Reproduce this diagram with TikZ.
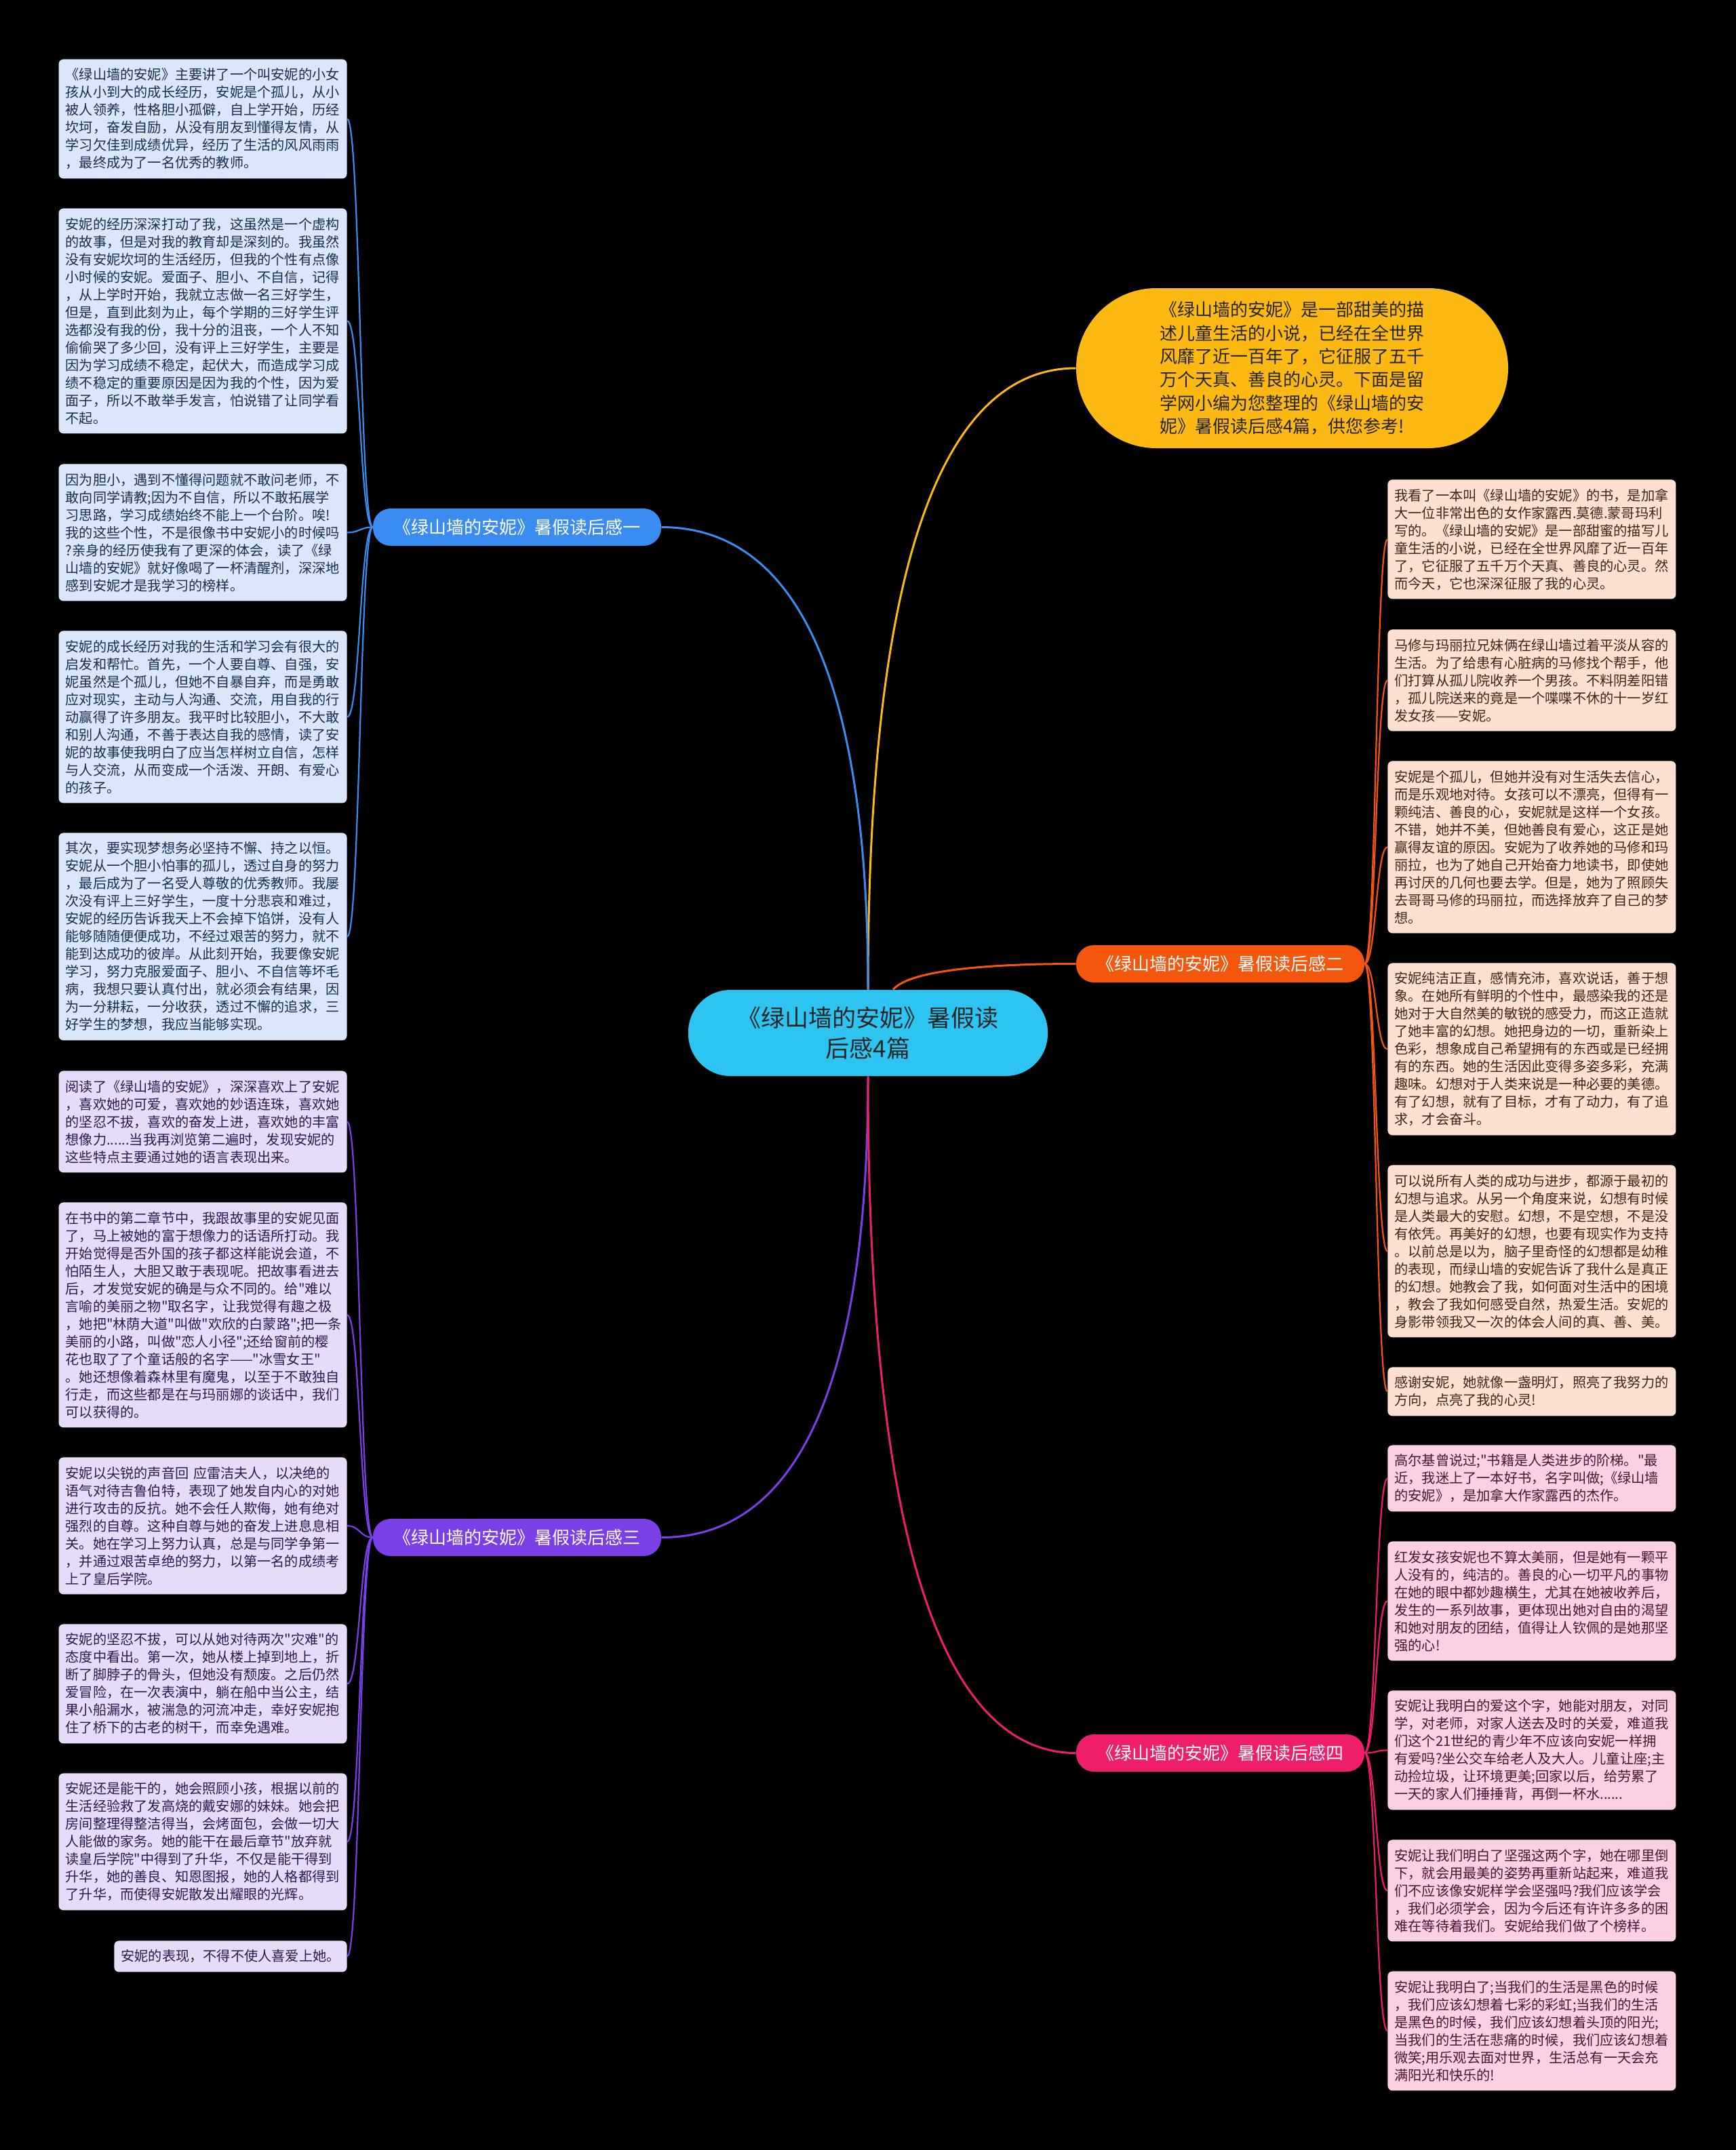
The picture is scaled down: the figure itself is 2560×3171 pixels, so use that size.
\documentclass[tikz,border=0pt]{standalone}
\usepackage{fontspec}
\newfontfamily\zhfont{Noto Sans CJK SC}
\usepackage{xcolor}

\definecolor{hubcyan}{HTML}{2DC4F2}
\definecolor{introgold}{HTML}{FCB813}
\definecolor{bluebr}{HTML}{3B8CF0}
\definecolor{orangebr}{HTML}{F4560E}
\definecolor{purplebr}{HTML}{7A3FE6}
\definecolor{pinkbr}{HTML}{EE1E68}
\definecolor{leafblue}{HTML}{DAE6FA}
\definecolor{inkblue}{HTML}{1D2B50}
\definecolor{leafpurple}{HTML}{E6DCF8}
\definecolor{inkpurple}{HTML}{2C1A4F}
\definecolor{leaforange}{HTML}{FCE0D2}
\definecolor{inkorange}{HTML}{402418}
\definecolor{leafpink}{HTML}{FAD0E2}
\definecolor{inkpink}{HTML}{4A1432}

\newcommand\leaffont{\zhfont\fontsize{10.1pt}{13pt}\selectfont}

\begin{document}
\begin{tikzpicture}[x=0.5pt, y=-0.5pt,
    leaf/.style={rounded corners=3.5pt, inner xsep=5pt, inner ysep=2pt,
                 text width=202.5pt, align=left, font=\leaffont,
                 minimum height={#1*13pt+10pt}},
    lblue/.style={leaf=#1, fill=leafblue, text=inkblue, anchor=north east},
    lpurple/.style={leaf=#1, fill=leafpurple, text=inkpurple, anchor=north east},
    rorange/.style={leaf=#1, fill=leaforange, text=inkorange, anchor=north west},
    rpink/.style={leaf=#1, fill=leafpink, text=inkpink, anchor=north west},
    branch/.style={rounded corners=13pt, minimum width=212.5pt,
                   minimum height=27.5pt, text=white,
                   font=\zhfont\fontsize{13pt}{15pt}\selectfont},
    stem/.style={line width=1.5pt},
    twig/.style={line width=1.1pt}
  ]
  % Canvas
  \path[use as bounding box, fill=black] (0,0) rectangle (2560,3171);
  % Central topic and intro
  \node[fill=hubcyan, rounded corners=31pt, minimum width=265pt,
        minimum height=63.5pt, align=center, text=black!85,
        font=\zhfont\fontsize{17.5pt}{22.5pt}\selectfont] (ctr) at (1280,1523.5)
        {《绿山墙的安妮》暑假读\\后感4篇};
  \node[fill=introgold, rounded corners=59pt, minimum width=318.5pt,
        minimum height=118pt, align=left, text=black!85,
        font=\zhfont\fontsize{13pt}{17.2pt}\selectfont] (intro) at (1905.5,543)
        {《绿山墙的安妮》是一部甜美的描\\
         述儿童生活的小说，已经在全世界\\
         风靡了近一百年了，它征服了五千\\
         万个天真、善良的心灵。下面是留\\
         学网小编为您整理的《绿山墙的安\\
         妮》暑假读后感4篇，供您参考!};
  % Branches
  \node[branch, fill=bluebr] (b1) at (762.5,777.5) {《绿山墙的安妮》暑假读后感一};
  \node[branch, fill=orangebr] (b2) at (1799.5,1421.5) {《绿山墙的安妮》暑假读后感二};
  \node[branch, fill=purplebr] (b3) at (762.5,2267.5) {《绿山墙的安妮》暑假读后感三};
  \node[branch, fill=pinkbr] (b4) at (1799.5,2585.5) {《绿山墙的安妮》暑假读后感四};
  \draw[stem, introgold] (ctr.north) .. controls +(0,-688) and +(-175,0) .. (intro.west);
  \draw[stem, bluebr] (ctr.north) .. controls +(0,-511) and +(174,0) .. (b1.east);
  \draw[stem, orangebr] (ctr.60) .. controls +(25,-30) and +(-120,0) .. (b2.west);
  \draw[stem, purplebr] (ctr.south) .. controls +(0,510) and +(174,0) .. (b3.east);
  \draw[stem, pinkbr] (ctr.south) .. controls +(0,749) and +(-175,0) .. (b4.west);
  % Left leaves, branch one
  \node[lblue=6] (l1) at (512,87)
    {《绿山墙的安妮》主要讲了一个叫安妮的小女\\
     孩从小到大的成长经历，安妮是个孤儿，从小\\
     被人领养，性格胆小孤僻，自上学开始，历经\\
     坎坷，奋发自励，从没有朋友到懂得友情，从\\
     学习欠佳到成绩优异，经历了生活的风风雨雨\\
     ，最终成为了一名优秀的教师。};
  \node[lblue=12] (l2) at (512,307)
    {安妮的经历深深打动了我，这虽然是一个虚构\\
     的故事，但是对我的教育却是深刻的。我虽然\\
     没有安妮坎坷的生活经历，但我的个性有点像\\
     小时候的安妮。爱面子、胆小、不自信，记得\\
     ，从上学时开始，我就立志做一名三好学生，\\
     但是，直到此刻为止，每个学期的三好学生评\\
     选都没有我的份，我十分的沮丧，一个人不知\\
     偷偷哭了多少回，没有评上三好学生，主要是\\
     因为学习成绩不稳定，起伏大，而造成学习成\\
     绩不稳定的重要原因是因为我的个性，因为爱\\
     面子，所以不敢举手发言，怕说错了让同学看\\
     不起。};
  \node[lblue=7] (l3) at (512,684)
    {因为胆小，遇到不懂得问题就不敢问老师，不\\
     敢向同学请教;因为不自信，所以不敢拓展学\\
     习思路，学习成绩始终不能上一个台阶。唉!\\
     我的这些个性，不是很像书中安妮小的时候吗\\
     ?亲身的经历使我有了更深的体会，读了《绿\\
     山墙的安妮》就好像喝了一杯清醒剂，深深地\\
     感到安妮才是我学习的榜样。};
  \node[lblue=9] (l4) at (512,930)
    {安妮的成长经历对我的生活和学习会有很大的\\
     启发和帮忙。首先，一个人要自尊、自强，安\\
     妮虽然是个孤儿，但她不自暴自弃，而是勇敢\\
     应对现实，主动与人沟通、交流，用自我的行\\
     动赢得了许多朋友。我平时比较胆小，不大敢\\
     和别人沟通，不善于表达自我的感情，读了安\\
     妮的故事使我明白了应当怎样树立自信，怎样\\
     与人交流，从而变成一个活泼、开朗、有爱心\\
     的孩子。};
  \node[lblue=11] (l5) at (512,1228)
    {其次，要实现梦想务必坚持不懈、持之以恒。\\
     安妮从一个胆小怕事的孤儿，透过自身的努力\\
     ，最后成为了一名受人尊敬的优秀教师。我屡\\
     次没有评上三好学生，一度十分悲哀和难过，\\
     安妮的经历告诉我天上不会掉下馅饼，没有人\\
     能够随随便便成功，不经过艰苦的努力，就不\\
     能到达成功的彼岸。从此刻开始，我要像安妮\\
     学习，努力克服爱面子、胆小、不自信等坏毛\\
     病，我想只要认真付出，就必须会有结果，因\\
     为一分耕耘，一分收获，透过不懈的追求，三\\
     好学生的梦想，我应当能够实现。};
  % Left leaves, branch three
  \node[lpurple=5] (l6) at (512,1579)
    {阅读了《绿山墙的安妮》，深深喜欢上了安妮\\
     ，喜欢她的可爱，喜欢她的妙语连珠，喜欢她\\
     的坚忍不拔，喜欢的奋发上进，喜欢她的丰富\\
     想像力......当我再浏览第二遍时，发现安妮的\\
     这些特点主要通过她的语言表现出来。};
  \node[lpurple=12] (l7) at (512,1773)
    {在书中的第二章节中，我跟故事里的安妮见面\\
     了，马上被她的富于想像力的话语所打动。我\\
     开始觉得是否外国的孩子都这样能说会道，不\\
     怕陌生人，大胆又敢于表现呢。把故事看进去\\
     后，才发觉安妮的确是与众不同的。给"难以\\
     言喻的美丽之物"取名字，让我觉得有趣之极\\
     ，她把"林荫大道"叫做"欢欣的白蒙路";把一条\\
     美丽的小路，叫做"恋人小径";还给窗前的樱\\
     花也取了了个童话般的名字——"冰雪女王"\\
     。她还想像着森林里有魔鬼，以至于不敢独自\\
     行走，而这些都是在与玛丽娜的谈话中，我们\\
     可以获得的。};
  \node[lpurple=7] (l8) at (512,2149)
    {安妮以尖锐的声音回 应雷洁夫人，以决绝的\\
     语气对待吉鲁伯特，表现了她发自内心的对她\\
     进行攻击的反抗。她不会任人欺侮，她有绝对\\
     强烈的自尊。这种自尊与她的奋发上进息息相\\
     关。她在学习上努力认真，总是与同学争第一\\
     ，并通过艰苦卓绝的努力，以第一名的成绩考\\
     上了皇后学院。};
  \node[lpurple=6] (l9) at (512,2395)
    {安妮的坚忍不拔，可以从她对待两次"灾难"的\\
     态度中看出。第一次，她从楼上掉到地上，折\\
     断了脚脖子的骨头，但她没有颓废。之后仍然\\
     爱冒险，在一次表演中，躺在船中当公主，结\\
     果小船漏水，被湍急的河流冲走，幸好安妮抱\\
     住了桥下的古老的树干，而幸免遇难。};
  \node[lpurple=7] (l10) at (512,2615)
    {安妮还是能干的，她会照顾小孩，根据以前的\\
     生活经验救了发高烧的戴安娜的妹妹。她会把\\
     房间整理得整洁得当，会烤面包，会做一切大\\
     人能做的家务。她的能干在最后章节"放弃就\\
     读皇后学院"中得到了升华，不仅是能干得到\\
     升华，她的善良、知恩图报，她的人格都得到\\
     了升华，而使得安妮散发出耀眼的光辉。};
  \node[lpurple=1, text width=161.6pt] (l11) at (512,2862)
    {安妮的表现，不得不使人喜爱上她。};
  % Right leaves, branch two
  \node[rorange=6] (r1) at (2046,707)
    {我看了一本叫《绿山墙的安妮》的书，是加拿\\
     大一位非常出色的女作家露西.莫德.蒙哥玛利\\
     写的。《绿山墙的安妮》是一部甜蜜的描写儿\\
     童生活的小说，已经在全世界风靡了近一百年\\
     了，它征服了五千万个天真、善良的心灵。然\\
     而今天，它也深深征服了我的心灵。};
  \node[rorange=5] (r2) at (2046,928)
    {马修与玛丽拉兄妹俩在绿山墙过着平淡从容的\\
     生活。为了给患有心脏病的马修找个帮手，他\\
     们打算从孤儿院收养一个男孩。不料阴差阳错\\
     ，孤儿院送来的竟是一个喋喋不休的十一岁红\\
     发女孩——安妮。};
  \node[rorange=9] (r3) at (2046,1122)
    {安妮是个孤儿，但她并没有对生活失去信心，\\
     而是乐观地对待。女孩可以不漂亮，但得有一\\
     颗纯洁、善良的心，安妮就是这样一个女孩。\\
     不错，她并不美，但她善良有爱心，这正是她\\
     赢得友谊的原因。安妮为了收养她的马修和玛\\
     丽拉，也为了她自己开始奋力地读书，即使她\\
     再讨厌的几何也要去学。但是，她为了照顾失\\
     去哥哥马修的玛丽拉，而选择放弃了自己的梦\\
     想。};
  \node[rorange=9] (r4) at (2046,1420)
    {安妮纯洁正直，感情充沛，喜欢说话，善于想\\
     象。在她所有鲜明的个性中，最感染我的还是\\
     她对于大自然美的敏锐的感受力，而这正造就\\
     了她丰富的幻想。她把身边的一切，重新染上\\
     色彩，想象成自己希望拥有的东西或是已经拥\\
     有的东西。她的生活因此变得多姿多彩，充满\\
     趣味。幻想对于人类来说是一种必要的美德。\\
     有了幻想，就有了目标，才有了动力，有了追\\
     求，才会奋斗。};
  \node[rorange=9] (r5) at (2046,1718)
    {可以说所有人类的成功与进步，都源于最初的\\
     幻想与追求。从另一个角度来说，幻想有时候\\
     是人类最大的安慰。幻想，不是空想，不是没\\
     有依凭。再美好的幻想，也要有现实作为支持\\
     。以前总是以为，脑子里奇怪的幻想都是幼稚\\
     的表现，而绿山墙的安妮告诉了我什么是真正\\
     的幻想。她教会了我，如何面对生活中的困境\\
     ，教会了我如何感受自然，热爱生活。安妮的\\
     身影带领我又一次的体会人间的真、善、美。};
  \node[rorange=2] (r6) at (2046,2016)
    {感谢安妮，她就像一盏明灯，照亮了我努力的\\
     方向，点亮了我的心灵!};
  % Right leaves, branch four
  \node[rpink=3] (r7) at (2046,2131)
    {高尔基曾说过;"书籍是人类进步的阶梯。"最\\
     近，我迷上了一本好书，名字叫做;《绿山墙\\
     的安妮》，是加拿大作家露西的杰作。};
  \node[rpink=6] (r8) at (2046,2273)
    {红发女孩安妮也不算太美丽，但是她有一颗平\\
     人没有的，纯洁的。善良的心一切平凡的事物\\
     在她的眼中都妙趣横生，尤其在她被收养后，\\
     发生的一系列故事，更体现出她对自由的渴望\\
     和她对朋友的团结，值得让人钦佩的是她那坚\\
     强的心!};
  \node[rpink=6] (r9) at (2046,2493)
    {安妮让我明白的爱这个字，她能对朋友，对同\\
     学，对老师，对家人送去及时的关爱，难道我\\
     们这个21世纪的青少年不应该向安妮一样拥\\
     有爱吗?坐公交车给老人及大人。儿童让座;主\\
     动捡垃圾，让环境更美;回家以后，给劳累了\\
     一天的家人们捶捶背，再倒一杯水......};
  \node[rpink=5] (r10) at (2046,2713)
    {安妮让我们明白了坚强这两个字，她在哪里倒\\
     下，就会用最美的姿势再重新站起来，难道我\\
     们不应该像安妮样学会坚强吗?我们应该学会\\
     ，我们必须学会，因为今后还有许许多多的困\\
     难在等待着我们。安妮给我们做了个榜样。};
  \node[rpink=6] (r11) at (2046,2907)
    {安妮让我明白了;当我们的生活是黑色的时候\\
     ，我们应该幻想着七彩的彩虹;当我们的生活\\
     是黑色的时候，我们应该幻想着头顶的阳光;\\
     当我们的生活在悲痛的时候，我们应该幻想着\\
     微笑;用乐观去面对世界，生活总有一天会充\\
     满阳光和快乐的!};
  % Twigs from branches to leaves
  \foreach \i in {1,...,5}
    \draw[twig, bluebr] (b1.west) .. controls +(-19,0) and +(19,0) .. (l\i.east);
  \foreach \i in {6,...,11}
    \draw[twig, purplebr] (b3.west) .. controls +(-19,0) and +(19,0) .. (l\i.east);
  \foreach \i in {1,...,6}
    \draw[twig, orangebr] (b2.east) .. controls +(17,0) and +(-17,0) .. (r\i.west);
  \foreach \i in {7,...,11}
    \draw[twig, pinkbr] (b4.east) .. controls +(17,0) and +(-17,0) .. (r\i.west);
\end{tikzpicture}
\end{document}
